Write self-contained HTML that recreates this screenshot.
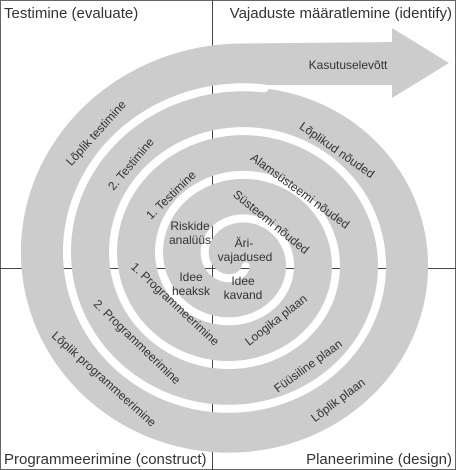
<!DOCTYPE html>
<html><head><meta charset="utf-8"><style>
html,body{margin:0;padding:0;background:#fff;}
svg{display:block;}
text{font-family:"Liberation Sans",Arial,sans-serif;fill:#333;}
.s{font-size:12px;}
.t{font-size:15px;}
</style></head><body>
<svg width="456" height="470" viewBox="0 0 456 470" xmlns="http://www.w3.org/2000/svg">
<defs>
<mask id="m" maskUnits="userSpaceOnUse" x="0" y="0" width="456" height="470">
<rect width="456" height="470" fill="#fff"/>
<path id="gap" d="" fill="none" stroke="#000" stroke-width="8" stroke-linecap="round" stroke-linejoin="round"/>
</mask>
</defs>
<rect x="0.5" y="0.5" width="455" height="469" fill="#fff" stroke="#666"/>
<line x1="212.5" y1="0" x2="212.5" y2="470" stroke="#444" stroke-width="1"/>
<line x1="0" y1="268.5" x2="456" y2="268.5" stroke="#444" stroke-width="1"/>
<path id="shape" mask="url(#m)" fill="#cccccc" d=""/>

<text class="t" x="4" y="18">Testimine (evaluate)</text>
<text class="t" x="452" y="18" text-anchor="end">Vajaduste määratlemine (identify)</text>
<text class="t" x="4" y="464">Programmeerimine (construct)</text>
<text class="t" x="452" y="464" text-anchor="end">Planeerimine (design)</text>

<g text-anchor="middle" dominant-baseline="central">
<text class="s" x="348" y="65">Kasutuselevõtt</text>
<text class="s" transform="translate(96,133) rotate(-48)">Lõplik testimine</text>
<text class="s" transform="translate(131,164) rotate(-50)">2. Testimine</text>
<text class="s" transform="translate(171,195) rotate(-44)">1. Testimine</text>
<text class="s" transform="translate(337,150) rotate(35)">Lõplikud nõuded</text>
<text class="s" transform="translate(300,191) rotate(36)">Alamsüsteemi nõuded</text>
<text class="s" transform="translate(271,222) rotate(39)">Süsteemi nõuded</text>
<text class="s" x="190" y="226">Riskide</text>
<text class="s" x="190" y="240">analüüs</text>
<text class="s" x="244" y="243">Äri-</text>
<text class="s" x="245" y="257">vajadused</text>
<text class="s" x="191" y="277">Idee</text>
<text class="s" x="191" y="291">heaksk</text>
<text class="s" x="243" y="281">Idee</text>
<text class="s" x="243" y="295">kavand</text>
<text class="s" transform="translate(175,304) rotate(43)">1. Programmeerimine</text>
<text class="s" transform="translate(137,342) rotate(44)">2. Programmeerimine</text>
<text class="s" transform="translate(104,379) rotate(42)">Lõplik programmeerimine</text>
<text class="s" transform="translate(276,320) rotate(-38)">Loogika plaan</text>
<text class="s" transform="translate(308,366) rotate(-36)">Füüsiline plaan</text>
<text class="s" transform="translate(338,400) rotate(-37)">Lõplik plaan</text>
</g>
</svg>
<script>
(function(){
  var cx=236, cy=259, kx=1.025, ky=0.975;
  function P(t){
    var th=-Math.PI/2+t*Math.PI/2, r=41+11.25*t;
    return [(cx+kx*r*Math.cos(th)).toFixed(2),(cy+ky*r*Math.sin(th)).toFixed(2)];
  }
  var d="", t, p;
  for(t=-2.58;t<=12.1;t+=0.02){p=P(t);d+=(d?"L":"M")+p[0]+","+p[1]+" ";}
  document.getElementById("gap").setAttribute("d",d);
  var p16=P(16), p12=P(12);
  var s="M"+p16[0]+","+p16[1]+" L392,42 L392,28 L449,63 L392,98 L392,85 L236,85 L"+p12[0]+","+p12[1]+" ";
  for(t=12;t<=16.0001;t+=0.02){p=P(t);s+="L"+p[0]+","+p[1]+" ";}
  s+="Z";
  document.getElementById("shape").setAttribute("d",s);
})();
</script>
</body></html>
